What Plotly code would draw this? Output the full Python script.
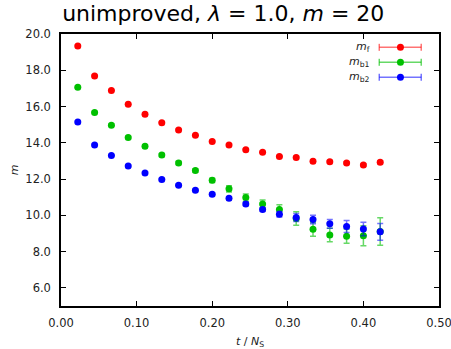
import plotly.graph_objects as go

N_S = 45
t_vals = list(range(1, 20))
x_vals = [t / N_S for t in t_vals]

m_f = [19.34, 17.69, 16.88, 16.12, 15.57, 15.11, 14.71, 14.42, 14.07, 13.88,
       13.61, 13.48, 13.24, 13.19, 12.98, 12.96, 12.89, 12.78, 12.93]
m_f_err = [0.02, 0.02, 0.02, 0.02, 0.03, 0.03, 0.03, 0.03, 0.04, 0.04,
           0.04, 0.04, 0.05, 0.05, 0.05, 0.06, 0.06, 0.07, 0.08]

m_b1 = [17.06, 15.67, 14.97, 14.29, 13.81, 13.33, 12.89, 12.47, 11.93, 11.46,
        10.98, 10.63, 10.32, 9.83, 9.23, 8.92, 8.85, 8.87, 9.11]
m_b1_err = [0.05, 0.05, 0.06, 0.06, 0.07, 0.08, 0.09, 0.10, 0.12, 0.17,
            0.20, 0.22, 0.27, 0.37, 0.38, 0.37, 0.39, 0.55, 0.76]

m_b2 = [15.15, 13.88, 13.30, 12.72, 12.34, 11.97, 11.66, 11.38, 11.16, 10.94,
        10.63, 10.32, 10.06, 9.88, 9.77, 9.53, 9.38, 9.25, 9.09]
m_b2_err = [0.03, 0.03, 0.04, 0.04, 0.05, 0.05, 0.06, 0.06, 0.07, 0.08,
            0.09, 0.10, 0.15, 0.22, 0.23, 0.24, 0.33, 0.37, 0.46]

x_ticks = [0.0, 0.1, 0.2, 0.3, 0.4, 0.5]
y_ticks = [6, 8, 10, 12, 14, 16, 18, 20]

series = [
    ("<i>m</i><sub>f</sub>", m_f, m_f_err, "#ff0000", "rgba(255,0,0,0.55)"),
    ("<i>m</i><sub>b1</sub>", m_b1, m_b1_err, "#00c000", "rgba(0,192,0,0.6)"),
    ("<i>m</i><sub>b2</sub>", m_b2, m_b2_err, "#0000ff", "rgba(0,0,255,0.55)"),
]

fig = go.Figure()
for name, y, err, col, ecol in series:
    fig.add_trace(go.Scatter(
        x=x_vals, y=y, mode="markers", name=name,
        marker=dict(color=col, size=7, line=dict(width=0)),
        error_y=dict(type="data", array=err, visible=True, color=ecol,
                     thickness=1.5, width=3),
        showlegend=False,
    ))

# custom legend (paper coordinates)
font = "DejaVu Sans, sans-serif"
shapes = []
annotations = []
leg_y = [0.951, 0.896, 0.841]
x0, x1, xm = 0.842, 0.953, 0.898
for (name, y, err, col, ecol), ly in zip(series, leg_y):
    annotations.append(dict(xref="paper", yref="paper", x=0.822, y=ly,
                            text=name, showarrow=False, xanchor="right",
                            yanchor="middle", font=dict(family=font, size=11, color="#222")))
    shapes.append(dict(type="line", xref="paper", yref="paper", x0=x0, x1=x1,
                       y0=ly, y1=ly, line=dict(color=ecol, width=1.5)))
    for xc in (x0, x1):
        shapes.append(dict(type="line", xref="paper", yref="paper",
                           xsizemode="scaled", ysizemode="pixel", yanchor=ly,
                           x0=xc, x1=xc, y0=-3.5, y1=3.5,
                           line=dict(color=ecol, width=1.5)))
    shapes.append(dict(type="circle", xref="paper", yref="paper",
                       xsizemode="pixel", ysizemode="pixel", xanchor=xm, yanchor=ly,
                       x0=-3.5, x1=3.5, y0=-3.5, y1=3.5,
                       fillcolor=col, line=dict(width=0)))

axis_common = dict(
    showline=True, linecolor="black", linewidth=1.5, mirror="ticks",
    ticks="inside", ticklen=5, tickwidth=1, tickcolor="black",
    showgrid=False, zeroline=False, automargin=False,
    ticklabeloverflow="allow",
    tickfont=dict(family=font, size=11.5, color="#222"),
)

fig.update_layout(
    width=451, height=349,
    margin=dict(l=61, r=12, t=34, b=43),
    paper_bgcolor="white", plot_bgcolor="white",
    title=dict(text="unimproved, <i>λ</i> = 1.0, <i>m</i> = 20",
               x=0.495, xanchor="center", y=0.985, yanchor="top",
               font=dict(family=font, size=22, color="black")),
    xaxis=dict(range=[0, 0.5], tickvals=x_ticks,
               ticktext=[f"{v:.2f}" for v in x_ticks],
               ticklabelstandoff=5,
               title=dict(text="<i>t</i> / <i>N</i><sub>S</sub>", standoff=9,
                          font=dict(family=font, size=11, color="#222")),
               **axis_common),
    yaxis=dict(range=[5, 20], tickvals=y_ticks,
               ticktext=[f"{v:.1f}" for v in y_ticks],
               ticklabelstandoff=6,
               title=dict(text="<i>m</i>", standoff=4,
                          font=dict(family=font, size=11, color="#222")),
               **axis_common),
    shapes=shapes, annotations=annotations,
)

fig.write_html("out.html")
